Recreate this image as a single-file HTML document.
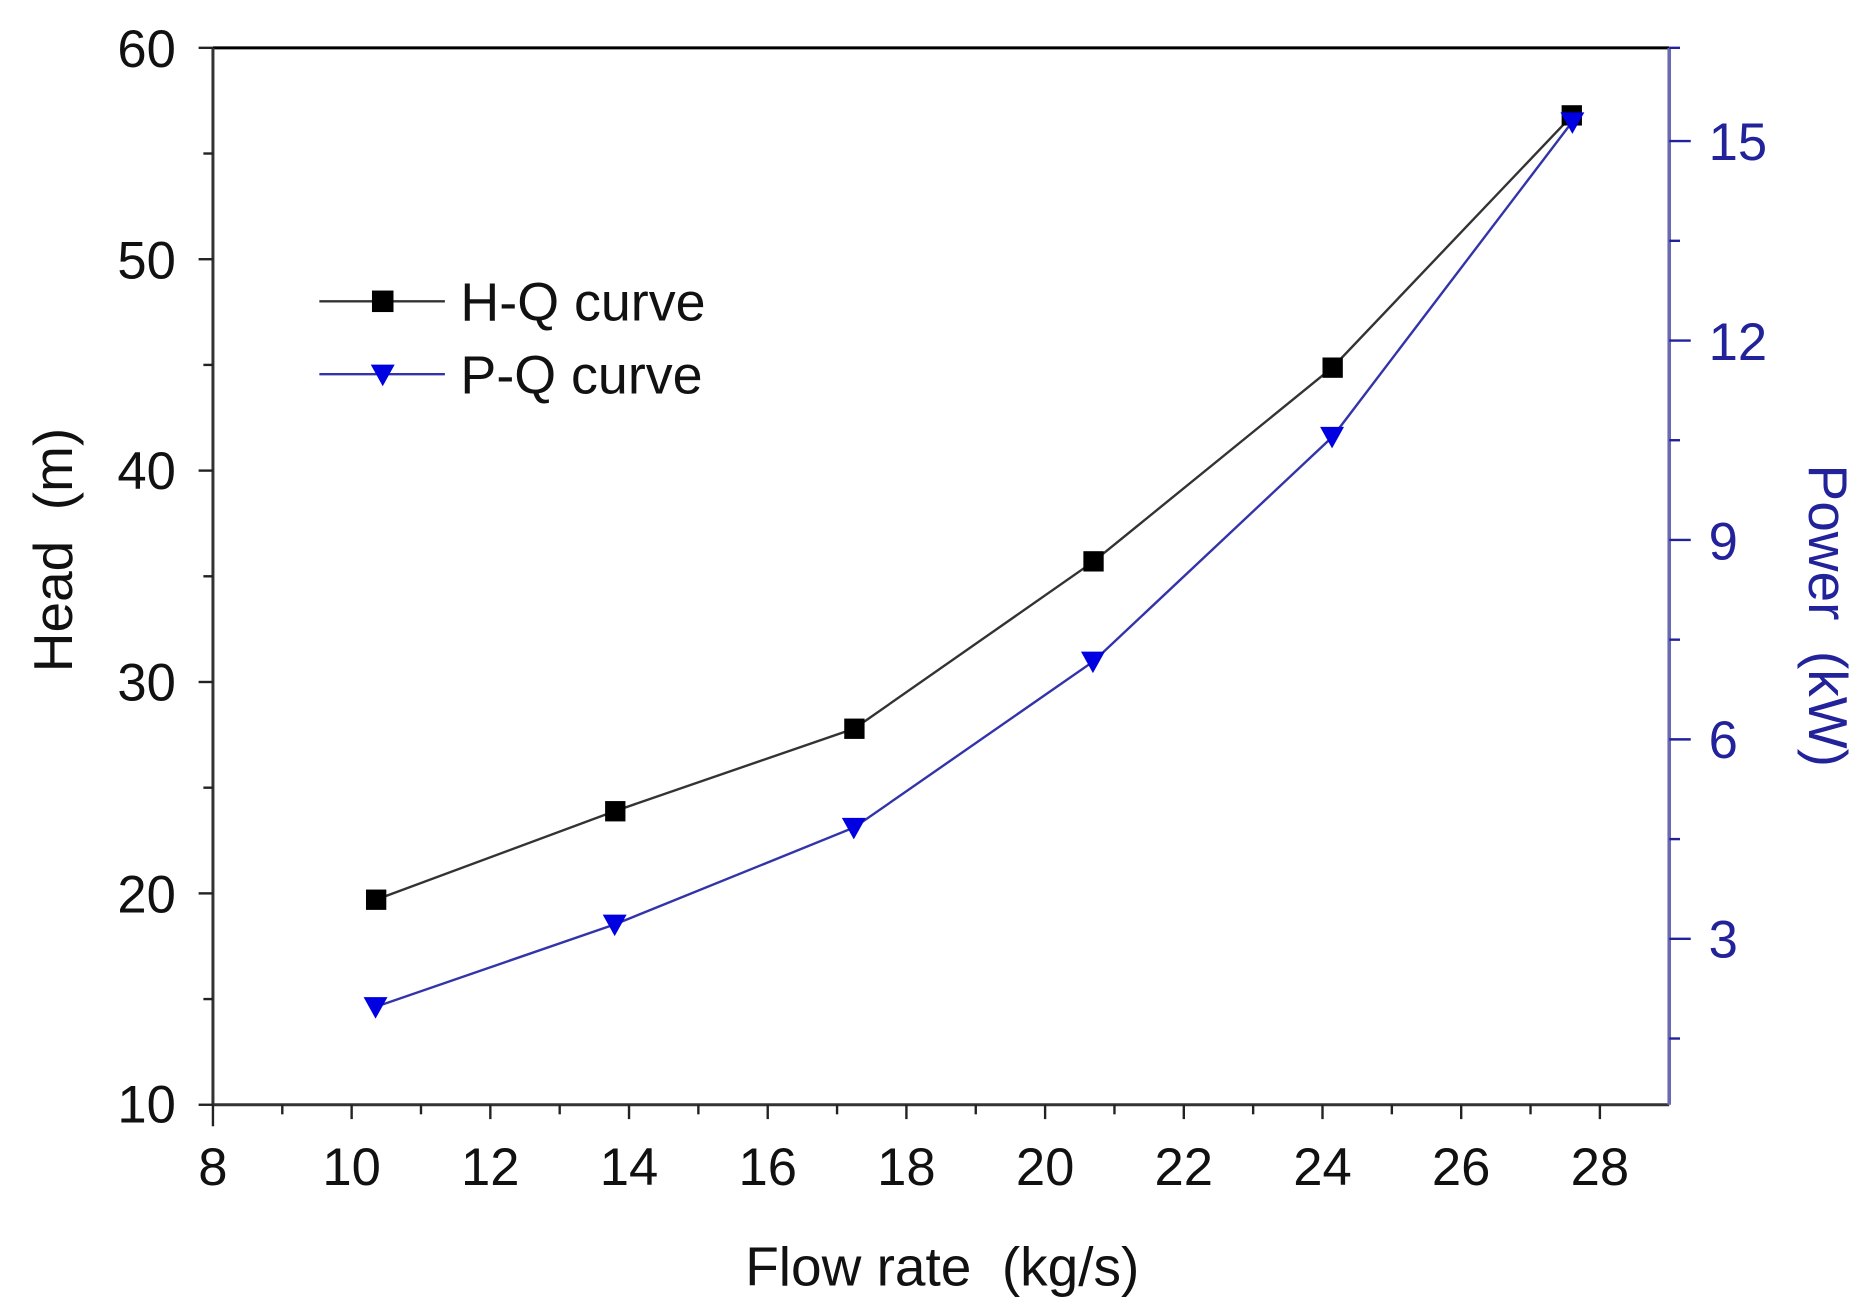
<!DOCTYPE html>
<html><head><style>html,body{margin:0;padding:0;background:#fff}svg{display:block}</style></head><body>
<svg width="1875" height="1314" viewBox="0 0 1568 1099" xmlns="http://www.w3.org/2000/svg" font-family="Liberation Sans, Arial, sans-serif">
<rect width="1568" height="1099" fill="#fff"/>
<line x1="178" y1="40" x2="1396" y2="40" stroke="#000" stroke-width="2.5"/>
<line x1="178" y1="40" x2="178" y2="924" stroke="#333" stroke-width="2.5"/>
<line x1="178" y1="924" x2="1396" y2="924" stroke="#333" stroke-width="2.5"/>
<line x1="1396" y1="40" x2="1396" y2="924" stroke="#6a6ab0" stroke-width="3"/>
<g stroke="#222" stroke-width="2">
<line x1="166" y1="40" x2="178" y2="40"/><line x1="170" y1="128.4" x2="178" y2="128.4"/>
<line x1="166" y1="216.8" x2="178" y2="216.8"/><line x1="170" y1="305.2" x2="178" y2="305.2"/>
<line x1="166" y1="393.6" x2="178" y2="393.6"/><line x1="170" y1="482" x2="178" y2="482"/>
<line x1="166" y1="570.4" x2="178" y2="570.4"/><line x1="170" y1="658.8" x2="178" y2="658.8"/>
<line x1="166" y1="747.2" x2="178" y2="747.2"/><line x1="170" y1="835.6" x2="178" y2="835.6"/>
<line x1="166" y1="924" x2="178" y2="924"/>
<line x1="178" y1="924" x2="178" y2="942"/><line x1="236" y1="924" x2="236" y2="932"/>
<line x1="294" y1="924" x2="294" y2="936"/><line x1="352" y1="924" x2="352" y2="932"/>
<line x1="410" y1="924" x2="410" y2="936"/><line x1="468" y1="924" x2="468" y2="932"/>
<line x1="526" y1="924" x2="526" y2="936"/><line x1="584" y1="924" x2="584" y2="932"/>
<line x1="642" y1="924" x2="642" y2="936"/><line x1="700" y1="924" x2="700" y2="932"/>
<line x1="758" y1="924" x2="758" y2="936"/><line x1="816" y1="924" x2="816" y2="932"/>
<line x1="874" y1="924" x2="874" y2="936"/><line x1="932" y1="924" x2="932" y2="932"/>
<line x1="990" y1="924" x2="990" y2="936"/><line x1="1048" y1="924" x2="1048" y2="932"/>
<line x1="1106" y1="924" x2="1106" y2="936"/><line x1="1164" y1="924" x2="1164" y2="932"/>
<line x1="1222" y1="924" x2="1222" y2="936"/><line x1="1280" y1="924" x2="1280" y2="932"/>
<line x1="1338" y1="924" x2="1338" y2="936"/>
</g>
<g stroke="#22229a" stroke-width="2">
<line x1="1396" y1="118" x2="1414" y2="118"/><line x1="1396" y1="201.4" x2="1405" y2="201.4"/>
<line x1="1396" y1="284.8" x2="1414" y2="284.8"/><line x1="1396" y1="368.2" x2="1405" y2="368.2"/>
<line x1="1396" y1="451.6" x2="1414" y2="451.6"/><line x1="1396" y1="535" x2="1405" y2="535"/>
<line x1="1396" y1="618.4" x2="1414" y2="618.4"/><line x1="1396" y1="701.8" x2="1405" y2="701.8"/>
<line x1="1396" y1="785.2" x2="1414" y2="785.2"/><line x1="1396" y1="868.6" x2="1405" y2="868.6"/>
<line x1="1396" y1="40" x2="1405" y2="40"/>
</g>
<g font-size="44" fill="#111" text-anchor="end">
<text x="147" y="56">60</text><text x="147" y="233">50</text><text x="147" y="409">40</text>
<text x="147" y="586">30</text><text x="147" y="763">20</text><text x="147" y="939">10</text>
</g>
<g font-size="44" fill="#111" text-anchor="middle">
<text x="178" y="991">8</text><text x="294" y="991">10</text><text x="410" y="991">12</text>
<text x="526" y="991">14</text><text x="642" y="991">16</text><text x="758" y="991">18</text>
<text x="874" y="991">20</text><text x="990" y="991">22</text><text x="1106" y="991">24</text>
<text x="1222" y="991">26</text><text x="1338" y="991">28</text>
</g>
<g font-size="44" fill="#22229a" text-anchor="start">
<text x="1429" y="134">15</text><text x="1429" y="301">12</text><text x="1429" y="468">9</text>
<text x="1429" y="634">6</text><text x="1429" y="801">3</text>
</g>
<text x="788" y="1075" font-size="46" text-anchor="middle" fill="#111">Flow rate&#160; (kg/s)</text>
<text transform="translate(60,460) rotate(-90)" font-size="46" text-anchor="middle" fill="#111">Head&#160; (m)</text>
<text transform="translate(1513,515) rotate(90)" font-size="46" text-anchor="middle" fill="#22229a">Power&#160; (kW)</text>
<polyline points="314.3,752.5 514.4,678.3 714.5,609.3 914.6,469.6 1114.7,307 1314.8,96.6" fill="none" stroke="#333" stroke-width="2"/>
<polyline points="314.3,842 514.4,773 714.5,692 914.6,553 1114.7,365 1314.8,102" fill="none" stroke="#3333aa" stroke-width="2"/>
<g fill="#000">
<rect x="306" y="744" width="17" height="17"/><rect x="506" y="670" width="17" height="17"/>
<rect x="706" y="601" width="17" height="17"/><rect x="906" y="461" width="17" height="17"/>
<rect x="1106" y="299" width="17" height="17"/><rect x="1306" y="88" width="17" height="17"/>
</g>
<g fill="#0000e0">
<polygon points="304,834 324,834 314,852"/><polygon points="504,765 524,765 514,783"/>
<polygon points="704,684 724,684 714,702"/><polygon points="904,545 924,545 914,563"/>
<polygon points="1104,357 1124,357 1114,375"/><polygon points="1305,94 1325,94 1315,112"/>
</g>
<line x1="267" y1="252" x2="372" y2="252" stroke="#333" stroke-width="2"/>
<rect x="311" y="243" width="18" height="18" fill="#000"/>
<text x="385" y="268" font-size="45" fill="#111">H-Q curve</text>
<line x1="267" y1="313" x2="372" y2="313" stroke="#3333aa" stroke-width="2"/>
<polygon points="310,305 330,305 320,323" fill="#0000e0"/>
<text x="385" y="329" font-size="45" fill="#111">P-Q curve</text>
</svg>
</body></html>
